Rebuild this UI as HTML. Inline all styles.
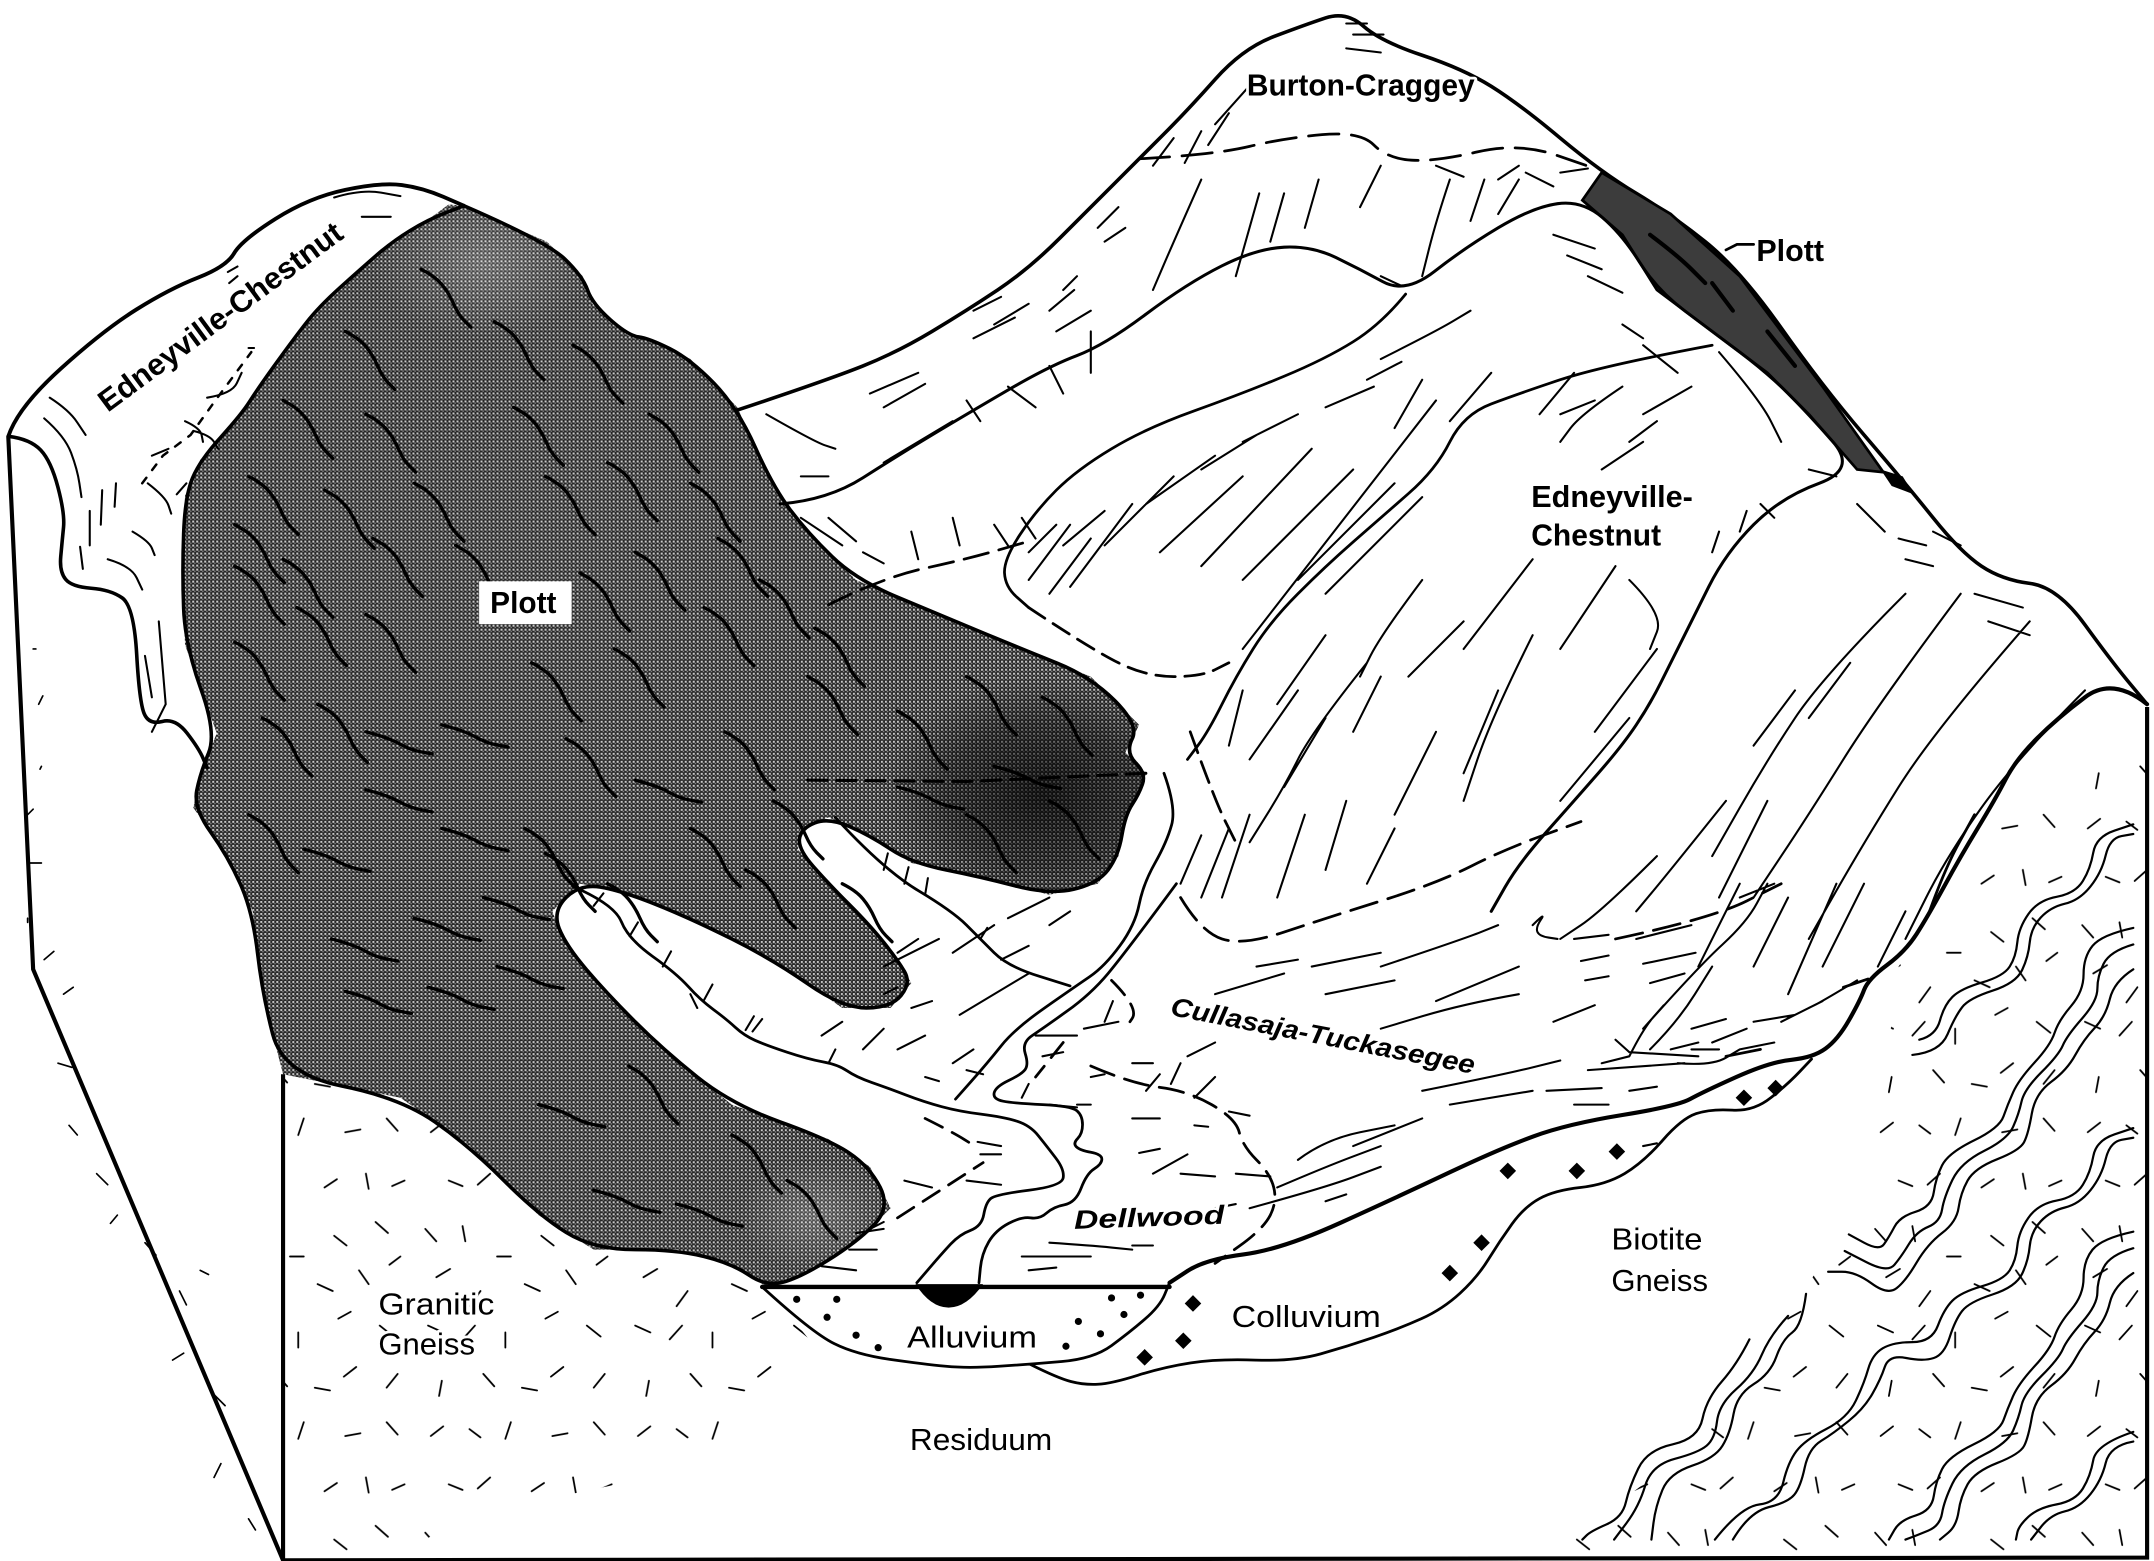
<!DOCTYPE html>
<html><head><meta charset="utf-8"><style>
html,body{margin:0;padding:0;background:#fff}
svg{display:block}
text{font-family:"Liberation Sans",sans-serif;fill:#000}
.o{stroke:#fff;stroke-width:4;paint-order:stroke;stroke-linejoin:round}
.k{fill:none;stroke:#000;stroke-linecap:round;stroke-linejoin:round}
</style></head><body>
<svg width="2154" height="1561" viewBox="0 0 1560 1130.5" xmlns="http://www.w3.org/2000/svg">
<defs>
<pattern id="h" width="2.9" height="2.9" patternUnits="userSpaceOnUse"><rect width="2.9" height="2.9" fill="#262626"/><rect width="1.45" height="1.45" fill="#c8c8c8"/><rect x="1.45" y="1.45" width="1" height="1" fill="#8a8a8a"/></pattern>
<pattern id="t" width="150" height="220" patternUnits="userSpaceOnUse"><path class="k" stroke-width="1.3" d="M8 10l8 9M35 8l2 11M60 30h10M92 15l9 7M122 5l9 8M16 45l10-6M48 55l-8 11M80 50l11 5M110 40l7 10M140 30l-8 6M10 80l11 5M35 90l9-10M66 85l0 11M95 75l9-5M125 80l10 8M20 120l-2 11M50 115l8 9M78 125l11 2M108 110l-9 7M138 115l-8 10M12 160l9-7M40 155l8 6M70 150l-4 12M100 160l11-2M130 150l8 9M25 195l10 4M55 190l-9 8M85 200l9-6M115 190l2 11M143 195l-9 4"/></pattern>
<radialGradient id="dk"><stop offset="0" stop-color="#000" stop-opacity=".72"/><stop offset=".6" stop-color="#000" stop-opacity=".4"/><stop offset="1" stop-color="#000" stop-opacity="0"/></radialGradient>
<radialGradient id="lt"><stop offset="0" stop-color="#fff" stop-opacity=".22"/><stop offset="1" stop-color="#fff" stop-opacity="0"/></radialGradient>
<clipPath id="pc"><path d="M325 148 336 149 396 175 422 200 429 220 455 243 470 245 500 260 534 295 560 353 585 386 620 420 680 445 740 470 790 490 825 525 815 545 830 560 825 575 815 590 810 620 795 640 760 648 710 635 660 625 630 605 600 592 580 600 578 615 600 640 630 670 650 695 660 712 645 730 610 730 560 695 500 665 450 645 420 640 400 660 410 685 440 720 480 760 530 800 600 825 630 845 645 875 620 900 580 925 555 932 530 915 490 905 430 905 390 880 340 830 290 795 205 778 190 720 183 660 165 620 140 585 145 560 157 531 134 467 132 414 134 359 145 333 175 300 187 281 213 245 231 222 261 195 284 175 310 159Z"/></clipPath>
<path id="w" class="k s" stroke-width="2.4" d="M0 0 10 5 20 17 27 33 36 42"/>
<path id="v" class="k s" stroke-width="2.4" d="M0 0 16 4 32 13 48 16"/>
</defs>
<rect width="1560" height="1131" fill="#fff"/>

<!-- tick fields -->
<path fill="url(#t)" d="M205 778 290 795 340 830 390 880 430 905 490 905 530 915 555 932 590 975 575 1010 520 1050 470 1070 400 1085 330 1100 290 1128 205 1128Z"/>
<path fill="url(#t)" d="M1120 1128 1555 1128 1555 520 1445 590 1400 665 1375 700 1365 780 1335 890 1265 1000 1190 1075Z"/>
<path class="k" stroke-width="1.2" d="M24 470h2M28 510l3-6M30 555l-1 2M20 590l4-4M20 625h10M20 665v3M32 695l7-6M46 720l7-5M42 770l10 3M50 815l6 7M70 850l8 8M85 880l-5 6M105 900l8 9M130 935l5 10M125 985l8-5M155 1010l8 8M160 1060l-5 10M180 1100l5 8M145 920l6 3"/>

<!-- Plott mass -->
<rect width="1560" height="1131" fill="url(#h)" clip-path="url(#pc)"/>
<g clip-path="url(#pc)"><ellipse cx="755" cy="575" rx="115" ry="85" fill="url(#dk)"/><ellipse cx="350" cy="190" rx="80" ry="55" fill="url(#lt)"/><ellipse cx="590" cy="880" rx="55" ry="40" fill="url(#lt)"/></g>
<path class="k s" stroke-width="2.6" d="M336 149 396 175 422 200 429 220 455 243 470 245 500 260 534 295 560 353 585 386 620 420 680 445 740 470 790 490 825 525 815 545 830 560 825 575 815 590 810 620 795 640 760 648 710 635 660 625 630 605 600 592 580 600 578 615 600 640 630 670 650 695 660 712 645 730 610 730 560 695 500 665 450 645 420 640 400 660 410 685 440 720 480 760 530 800 600 825 630 845 645 875 620 900 580 925 555 932 530 915 490 905 430 905 390 880 340 830 290 795 205 778 190 720 183 660 165 620 140 585 145 560 157 531 134 467 132 414 134 359 145 333 175 300 187 281 213 245 231 222 261 195 284 175 310 159 336 149"/>
<!-- Plott wiggles -->
<use href="#w" x="305" y="195"/><use href="#w" x="358" y="233"/><use href="#w" x="415" y="250"/><use href="#w" x="250" y="240"/><use href="#w" x="205" y="290"/><use href="#w" x="372" y="295"/><use href="#w" x="265" y="300"/><use href="#w" x="180" y="345"/><use href="#w" x="170" y="380"/><use href="#w" x="235" y="355"/><use href="#w" x="300" y="350"/><use href="#w" x="395" y="345"/><use href="#w" x="440" y="335"/><use href="#w" x="470" y="300"/><use href="#w" x="500" y="350"/><use href="#w" x="170" y="410"/><use href="#w" x="205" y="405"/><use href="#w" x="270" y="390"/><use href="#w" x="330" y="395"/><use href="#w" x="420" y="415"/><use href="#w" x="460" y="400"/><use href="#w" x="520" y="390"/><use href="#w" x="170" y="465"/><use href="#w" x="215" y="440"/><use href="#w" x="265" y="445"/><use href="#w" x="385" y="480"/><use href="#w" x="445" y="470"/><use href="#w" x="510" y="440"/><use href="#w" x="550" y="420"/><use href="#w" x="590" y="455"/><use href="#w" x="190" y="520"/><use href="#w" x="230" y="510"/><use href="#w" x="410" y="535"/><use href="#w" x="525" y="530"/><use href="#w" x="585" y="490"/><use href="#w" x="650" y="515"/><use href="#w" x="700" y="490"/><use href="#w" x="755" y="505"/><use href="#w" x="180" y="590"/><use href="#w" x="380" y="600"/><use href="#w" x="500" y="600"/><use href="#w" x="560" y="580"/><use href="#w" x="440" y="640"/><use href="#w" x="395" y="618"/><use href="#w" x="700" y="590"/><use href="#w" x="760" y="580"/><use href="#w" x="610" y="640"/><use href="#w" x="530" y="822"/><use href="#w" x="455" y="772"/><use href="#w" x="570" y="855"/><use href="#w" x="540" y="630"/>
<use href="#v" x="265" y="530"/><use href="#v" x="320" y="525"/><use href="#v" x="460" y="565"/><use href="#v" x="265" y="572"/><use href="#v" x="320" y="600"/><use href="#v" x="220" y="615"/><use href="#v" x="240" y="680"/><use href="#v" x="300" y="665"/><use href="#v" x="350" y="650"/><use href="#v" x="250" y="718"/><use href="#v" x="310" y="715"/><use href="#v" x="360" y="700"/><use href="#v" x="430" y="862"/><use href="#v" x="490" y="872"/><use href="#v" x="390" y="800"/><use href="#v" x="650" y="570"/><use href="#v" x="720" y="555"/>
<path class="k" stroke-width="2.2" stroke-dasharray="14 7" stroke="#000" d="M585 565 700 566 830 560"/>

<!-- Left band and frame -->
<path class="k s" stroke-width="2.8" d="M6 316 13 295 75 239 123 209 164 193 175 174 224 143 276 132 306 136 336 149"/>
<path class="k s" stroke-width="2.6" d="M6 316 22 318 37 334 47 372 45 392 43 414 52 425 80 427 97 439 101 509 108 525 127 520 144 542 150 556"/>
<path class="k s" stroke-width="1.5" d="M36 288 50 297 62 315M32 303 47 316 56 340 59 360M60 412 58 396M65 395 65 370M73 380 74 355M83 367 84 350M107 350 120 360 124 372M96 385 108 392 112 402M78 405 95 410 103 427M115 450 120 510M105 475 110 505M110 530 120 510M242 143 262 137 290 142M262 157H283M165 197 172 193M166 205 172 200M128 358 135 350M110 330 122 325M134 305 145 310 147 320M150 288 168 285 175 270M140 312 152 315 158 325M180 252H184"/>
<path class="k" stroke-width="1.8" stroke-dasharray="5 7" d="M103 350 118 330 138 315 156 290 182 255"/>
<path fill="none" stroke="#000" stroke-width="3" d="M6 316 24 702 205 1130 1555 1128V512M205 778V1130"/>

<!-- Back mountain outline -->
<path class="k s" stroke-width="2.6" d="M534 297 600 275 650 255 700 225 745 195 790 150 825 115 860 80 900 35 945 18 975 8 1000 30 1060 50 1100 75 1160 125 1210 155 1260 195 1320 280 1380 350 1420 400 1450 420 1490 425 1530 480 1555 510"/>
<!-- Plott strip -->
<path fill="#3c3c3c" stroke="#000" stroke-width="2" d="M1146 145 1160 125 1210 155 1260 200 1320 280 1364 342 1345 340 1310 300 1280 270 1240 240 1200 210 1175 170Z"/>
<path fill="#000" d="M1362 340 1378 345 1386 358 1370 352Z"/>
<path class="k s" stroke-width="3" stroke="#000" d="M1195 170 1215 185 1235 205M1240 205 1255 225M1280 240 1300 265"/>
<path class="k" stroke-width="2" d="M1250 181 1258 177H1270"/>

<!-- Ridges -->
<path class="k s" stroke-width="2.2" d="M565 365 600 362 650 330 700 300 760 265 800 250 860 205 910 180 950 178 985 195 1018 213 1060 180 1110 150 1146 145 1175 170 1200 210 1240 240 1280 270 1310 300 1345 340 1290 360 1250 400 1225 450 1210 480 1195 510 1175 540 1140 580 1100 625 1080 660"/>
<path class="k s" stroke-width="2" d="M1018 213 1000 235 960 260 900 285 830 310 780 340 750 370 727 405 728 425 745 440"/>
<path class="k s" stroke-width="2" d="M1240 250 1160 265 1100 285 1060 300 1040 340 1000 375 960 410 920 450 895 490 875 530 860 550"/>
<path class="k s" stroke-width="3" d="M1555 510 1530 490 1490 520 1460 550 1445 579 1420 620 1396 664 1380 689 1353 709 1347 725 1331 753 1313 766 1282 769 1233 791 1215 801 1135 814 1086 832 1014 866 928 905 873 912 847 929"/>
<path class="k s" stroke-width="2" d="M1396 664 1408 630 1430 590M1353 709 1335 715M1275 760 1250 765"/>
<path class="k" stroke-width="3.2" d="M552 932H847"/>
<path fill="#000" d="M663 930H712Q700 947 687 947Q674 947 663 930Z"/>
<path class="k s" stroke-width="2" d="M552 932 588 965 620 981 669 988 701 991 746 988 792 984 818 965 840 946 847 929M746 988 766 998 785 1003 805 1002 843 990 882 984 937 986 976 975 1014 962 1045 948 1070 925 1086 899 1104 874 1126 862 1163 858 1190 842 1218 810 1239 803 1270 805 1295 785 1312 767"/>

<!-- Valley streams -->
<path class="k s" stroke-width="2" d="M415 642 445 655 455 680 490 705 507 724 526 738 539 750 555 757 585 767 607 771 620 780 643 788 669 798 695 805 727 809 746 815 758 830 771 847 769 859 721 865 714 871 711 888 695 894 682 908 664 929"/>
<path class="k s" stroke-width="2" d="M843 560 852 585 845 610 828 640 822 670 800 700 778 715 735 745 715 770 692 796"/>
<path class="k s" stroke-width="2" d="M852 640 815 690 790 720 755 745 740 755 745 771 740 778 721 787 719 796 734 799 776 801 784 808 784 821 777 828 782 833 798 836 798 843 787 850 779 871 763 874 753 883 740 881 721 891 711 908 709 929"/>
<path class="k s" stroke-width="2" d="M605 592 640 630 690 660 710 680 730 700 775 714"/>
<path class="k s" stroke-width="1.5" d="M430 656 437 647M456 678 462 668M480 700 486 689M510 724 516 713M540 746 546 736M640 630 643 618M655 640 658 628M670 648 672 636M710 680 715 672"/>

<!-- Dashed contacts -->
<path class="k s" stroke-width="2" stroke-dasharray="22 9" d="M825 115 880 112 930 100 985 95 1005 115 1040 117 1100 103 1155 122"/>
<path class="k s" stroke-width="2" stroke-dasharray="18 8" d="M600 438 640 418 700 405 745 392"/>
<path class="k s" stroke-width="2" stroke-dasharray="14 7" d="M745 440 790 470 830 490 870 490 890 480"/>
<path class="k s" stroke-width="2" stroke-dasharray="16 7" d="M862 530 880 580 895 610"/>
<path class="k s" stroke-width="2" stroke-dasharray="20 8" d="M855 650 870 675 900 685 960 665 1040 640 1090 615 1145 595M1170 680 1240 665 1290 640"/>
<path class="k s" stroke-width="2" stroke-dasharray="18 8" d="M790 772 820 785 860 790 895 810 900 830 920 850 925 870 915 890 880 915"/>
<path class="k s" stroke-width="2" stroke-dasharray="14 8" d="M805 710 825 730 815 745M770 755 750 780M650 882 712 842M670 810 690 820 706 830"/>

<!-- Hillside hatching -->
<path class="k s" stroke-width="1.5" d="M850 100 835 120M870 95 858 118M890 82 875 105M905 62 880 90M975 17H990M980 25H1002M975 35 1000 38M1040 120 1060 128M1085 130 1100 120M1105 125 1125 135M1130 125 1150 122
M870 130 850 175 835 210M912 140 905 165 895 200M930 140 920 175M1000 120 985 150M1050 130 1040 160 1030 200M1075 130 1065 160M1100 130 1085 155M955 130 945 165M795 165 810 150M800 175 815 165M765 240 790 225M760 225 778 210M770 210 780 200M705 225 725 215M720 235 745 220M705 245 735 230M630 285 665 270M640 295 670 278M555 300 590 320 605 325M580 345H600M640 335 690 305M790 240 790 270M760 265 770 285M730 280 750 295M700 290 710 305M1000 200 1015 207
M1125 170 1155 180M1135 185 1160 195M1150 200 1175 212M1175 235 1190 245M1190 250 1215 270M1245 255 1275 290 1290 320M1175 280 1145 300 1130 320M1130 300 1155 290M1225 280 1190 300M1000 260 1040 240 1065 225M990 275 1015 262M960 295 995 280M900 320 940 300M870 340 910 315M830 365 880 330M800 395 850 345M775 425 820 365M760 430 790 390M745 420 775 380M840 400 900 345M870 410 950 325M900 420 980 340M940 420 1010 350M960 430 1030 360M900 470 1040 290M1030 275 1010 310M1080 270 1050 305M1140 270 1115 300
M1190 320 1160 340M1200 305 1180 320M1110 405 1060 470M1060 450 1020 490M1000 490 980 530M1180 420 1205 445 1195 470M1240 400 1245 385M1265 370 1260 385M1275 365 1285 375M1310 340 1330 345M1345 365 1365 385M1375 390 1395 395M1380 405 1400 410M1400 385 1420 395M1430 430 1465 440M1440 450 1470 460
M1030 420 1000 460 985 490M1110 460 1080 520 1060 580M1170 410 1130 470M1180 520 1130 580M1200 470 1155 530M1085 500 1060 560M1040 530 1010 590M990 480 950 530 930 570 905 610M960 520 930 570M940 500 905 550M900 500 890 540M960 460 925 510M1010 600 990 640M975 580 960 630M945 590 925 650M905 590 885 650M890 600 870 650M870 605 855 640
M1380 430 1320 490 1280 550 1240 620M1420 430 1360 510 1310 590 1270 650M1470 450 1400 530 1350 610 1310 680M1510 500 1460 550 1410 620 1380 680M1300 500 1270 540M1340 480 1310 520M1200 620 1160 660 1130 680M1250 580 1210 630 1185 660M1260 640 1230 700M1295 650 1270 700M1330 640 1295 720M1350 640 1320 700M1280 580 1245 650M1380 660 1360 700
M1345 710 1320 725 1310 730M1290 740 1320 725M1240 755 1265 745M1225 745 1250 738M1225 760H1245M1180 765 1160 770M1170 753 1180 762M1190 745 1230 700 1265 668 1280 640M1180 765 1190 745 1205 728M1195 760 1215 740 1240 700M1215 770 1240 772 1260 760M1180 762 1230 765M1270 740 1300 735M1260 760 1285 755
M1110 670 1120 660 1112 672 1115 678 1128 680M1140 680 1165 677M1185 680 1225 670M1260 650 1285 640M1145 696 1165 692M1190 698 1228 690M1148 710 1165 707M1195 712 1220 705M1100 720 1060 727 1000 745M1040 725 1100 700M1125 740 1155 728M1000 700 1060 680 1085 670M950 700 1000 690M910 700 940 695M880 720 930 705M960 720 1010 710M1030 790 1090 778 1130 768M1150 775 1220 770M1210 760 1230 755M1180 790 1200 787M1120 790 1160 788M1050 800 1110 790M980 830 1030 810M1140 800H1165
M940 840 960 825 1010 815M925 860 960 845 1000 830M905 875 960 860 1000 845M960 870 975 865
M750 750H780M755 765 770 762M800 740 806 725M820 770H835M880 755 860 765M790 780 800 778M780 800 790 800M820 810 840 810M825 835 840 832M865 815 875 816M890 805 905 808M855 850 880 852M895 850 920 852M880 875 895 872M760 900 790 902 820 905M740 910H790M745 920 765 918M820 902H835M620 893 640 890M615 905 635 905M595 917 620 920M630 890 640 885
M650 690 665 680M690 690 720 670M725 695 745 685M730 665 760 650M760 670 775 660M640 720 650 715M660 730 675 725M695 735 745 705M835 850 860 836M785 745 810 740M760 800 780 802M670 780 680 783M700 855 725 858M710 836H725M708 827 725 830M655 855 675 860
M500 720 505 730M545 747 552 738M600 770 605 760M625 760 640 745M690 770 705 760M595 750 610 740M650 760 670 750M640 700 680 680M700 775 712 778M740 795 745 785M830 790 840 778M848 785 855 770M865 795 880 780
M1190 830 1200 828M580 375 610 395M600 375 620 392M625 400 640 408M660 385 665 405M690 375 695 395M720 380 730 395M740 375 750 390M745 400 765 380M770 395 800 370"/>

<!-- Wave bands -->
<path class="k s" stroke-width="1.6" d="M1390 753 1402 750 1408 728 1420 716 1451 707 1460 693 1462 672 1476 652 1503 647 1514 629 1518 606 1545 597
M1385 764 1405 762 1416 736 1426 723 1460 712 1469 693 1471 672 1485 657 1506 652 1522 632 1528 607 1545 604
M1545 672 1522 677 1509 693 1509 718 1491 739 1485 757 1462 782 1454 800 1448 817 1411 835 1402 853 1399 874 1376 881 1368 896 1361 906 1339 894
M1545 684 1528 689 1519 707 1519 725 1497 750 1491 764 1466 789 1462 807 1454 825 1420 842 1408 867 1405 885 1388 892 1377 910 1367 922 1336 906
M1545 702 1531 711 1525 736 1509 753 1497 775 1474 792 1469 821 1463 833 1430 846 1420 864 1417 885 1396 901 1380 928 1367 938 1344 921 1324 921
M1242 1115 1261 1091 1288 1088 1295 1059 1307 1043 1338 1027 1350 1002 1356 981 1371 972 1399 972 1408 948 1420 936 1451 927 1460 913 1462 892 1476 872 1503 867 1514 849 1518 826 1545 817
M1255 1115 1267 1095 1295 1088 1304 1077 1310 1049 1328 1038 1350 1020 1362 999 1368 981 1393 986 1408 981 1416 956 1426 943 1460 932 1469 913 1471 892 1485 877 1506 872 1522 852 1528 827 1545 824
M1545 892 1522 897 1509 913 1509 938 1491 959 1485 977 1462 1002 1454 1020 1448 1037 1411 1055 1402 1073 1399 1094 1376 1101 1368 1115
M1545 904 1528 909 1519 927 1519 945 1497 970 1491 984 1466 1009 1462 1027 1454 1045 1420 1062 1408 1087 1405 1105 1388 1112 1380 1115
M1545 922 1531 931 1525 956 1509 973 1497 995 1474 1012 1469 1041 1463 1053 1430 1066 1420 1084 1417 1105 1405 1115
M1545 1037 1518 1046 1514 1069 1503 1087 1476 1092 1462 1105 1460 1115
M1545 1044 1528 1047 1522 1072 1506 1092 1485 1097 1471 1115
M1308 937 1305 960 1291 970 1282 995 1258 1010 1253 1038 1242 1056 1209 1067 1199 1091 1196 1115
M1295 953 1282 967 1270 995 1245 1017 1242 1042 1230 1052 1196 1061 1187 1091 1169 1115
M1267 970 1258 988 1236 1013 1230 1042 1193 1050 1180 1077 1175 1099 1152 1109 1146 1115"/>

<!-- Alluvium dots and colluvium diamonds -->
<g fill="#000"><circle cx="577" cy="941" r="2.6"/><circle cx="606" cy="941" r="2.6"/><circle cx="599" cy="954" r="2.6"/><circle cx="620" cy="967" r="2.6"/><circle cx="636" cy="976" r="2.6"/><circle cx="805" cy="940" r="2.6"/><circle cx="826" cy="938" r="2.6"/><circle cx="814" cy="952" r="2.6"/><circle cx="781" cy="957" r="2.6"/><circle cx="797" cy="966" r="2.6"/><circle cx="772" cy="975" r="2.6"/>
<path d="M864 938l6 6-6 6-6-6zM857 965l6 6-6 6-6-6zM829 977l6 6-6 6-6-6zM1050 916l6 6-6 6-6-6zM1073 894l6 6-6 6-6-6zM1092 842l6 6-6 6-6-6zM1142 842l6 6-6 6-6-6zM1171 828l6 6-6 6-6-6zM1263 789l6 6-6 6-6-6zM1286 782l6 6-6 6-6-6z"/></g>

<!-- Labels -->
<text class="o" x="903" y="69" font-size="22" font-weight="bold" textLength="165" lengthAdjust="spacingAndGlyphs">Burton-Craggey</text>
<text class="o" x="1272" y="189" font-size="22" font-weight="bold" textLength="49" lengthAdjust="spacingAndGlyphs">Plott</text>
<text class="o" x="1109" y="367" font-size="22" font-weight="bold" textLength="117" lengthAdjust="spacingAndGlyphs">Edneyville-</text>
<text class="o" x="1109" y="395" font-size="22" font-weight="bold" textLength="94" lengthAdjust="spacingAndGlyphs">Chestnut</text>
<text class="o" transform="translate(78 299) rotate(-36.5)" font-size="22" font-weight="bold" textLength="214" lengthAdjust="spacingAndGlyphs">Edneyville-Chestnut</text>
<rect x="347" y="421" width="67" height="31" fill="#fff"/>
<text x="355" y="444" font-size="22" font-weight="bold" textLength="48" lengthAdjust="spacingAndGlyphs">Plott</text>
<text class="o" transform="translate(847 735) rotate(11)" font-size="19" font-weight="bold" font-style="italic" textLength="224" lengthAdjust="spacingAndGlyphs">Cullasaja-Tuckasegee</text>
<text class="o" transform="translate(778 890) rotate(-2)" font-size="19" font-weight="bold" font-style="italic" textLength="109" lengthAdjust="spacingAndGlyphs">Dellwood</text>
<g font-size="22"><text x="657" y="976" textLength="94" lengthAdjust="spacingAndGlyphs">Alluvium</text>
<text class="o" x="892" y="961" textLength="108" lengthAdjust="spacingAndGlyphs">Colluvium</text>
<text class="o" x="659" y="1050" textLength="103" lengthAdjust="spacingAndGlyphs">Residuum</text>
<text class="o" x="1167" y="905" textLength="66" lengthAdjust="spacingAndGlyphs">Biotite</text>
<text class="o" x="1167" y="935" textLength="70" lengthAdjust="spacingAndGlyphs">Gneiss</text>
<text class="o" x="274" y="952" textLength="84" lengthAdjust="spacingAndGlyphs">Granitic</text>
<text class="o" x="274" y="981" textLength="70" lengthAdjust="spacingAndGlyphs">Gneiss</text></g>
</svg>
<script>
document.querySelectorAll('path.s').forEach(function(p){
  var out='';
  p.getAttribute('d').split('M').forEach(function(seg){
    if(!seg.trim())return;
    if(/[A-Za-z]/.test(seg)){out+='M'+seg;return;}
    var n=seg.trim().split(/\s+/).map(Number),q=[],i;
    for(i=0;i+1<n.length;i+=2)q.push([n[i],n[i+1]]);
    out+='M'+q[0][0]+' '+q[0][1];
    if(q.length<3){out+='L'+q[q.length-1][0]+' '+q[q.length-1][1];return;}
    for(i=1;i<q.length-1;i++){
      var mx=(q[i][0]+q[i+1][0])/2,my=(q[i][1]+q[i+1][1])/2;
      out+='Q'+q[i][0]+' '+q[i][1]+' '+mx+' '+my;
    }
    out+='L'+q[q.length-1][0]+' '+q[q.length-1][1];
  });
  p.setAttribute('d',out);
});
</script>
</body></html>
